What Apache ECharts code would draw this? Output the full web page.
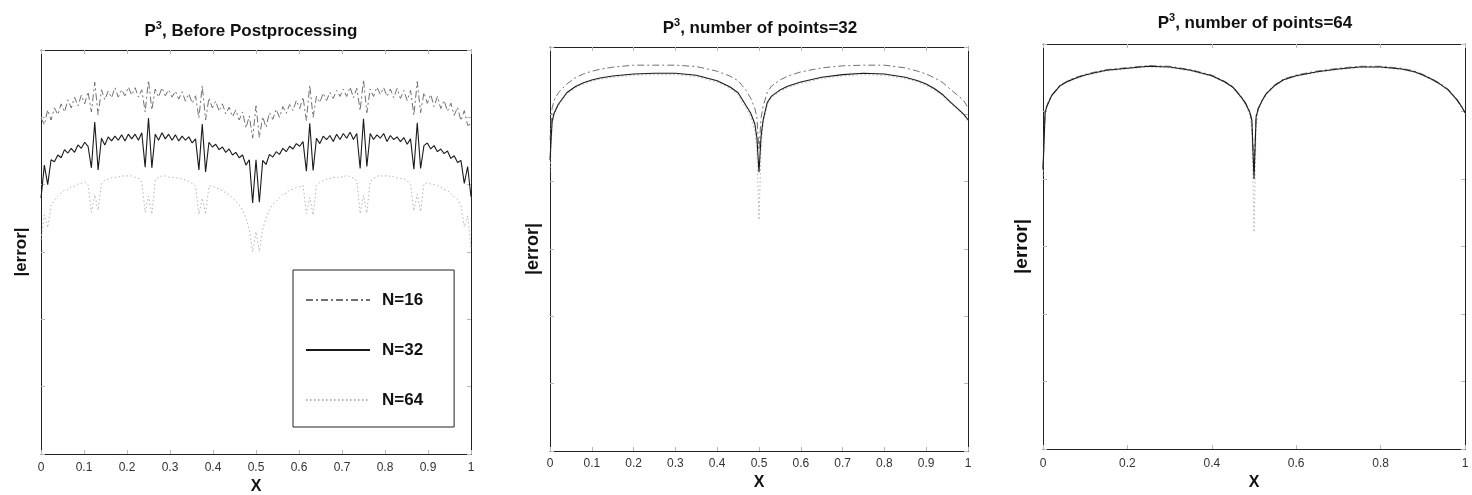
<!DOCTYPE html>
<html><head><meta charset="utf-8">
<script src="https://cdn.jsdelivr.net/npm/echarts@6/dist/echarts.min.js"></script>
<style>html,body{margin:0;padding:0;background:#fff}#c{width:1472px;height:495px}</style>
</head><body><div id="c"></div>
<script>
// ---- Panel 1: before postprocessing (x sampled every 1/128) ----
const x1 = [0,0.0078,0.0156,0.0234,0.0313,0.0391,0.0469,0.0547,0.0625,0.0703,0.0781,0.0859,0.0938,0.1016,0.1094,0.1172,0.125,0.1328,0.1406,0.1484,0.1563,0.1641,0.1719,0.1797,0.1875,0.1953,0.2031,0.2109,0.2188,0.2266,0.2344,0.2422,0.25,0.2578,0.2656,0.2734,0.2813,0.2891,0.2969,0.3047,0.3125,0.3203,0.3281,0.3359,0.3438,0.3516,0.3594,0.3672,0.375,0.3828,0.3906,0.3984,0.4063,0.4141,0.4219,0.4297,0.4375,0.4453,0.4531,0.4609,0.4688,0.4766,0.4844,0.4922,0.5,0.5078,0.5156,0.5234,0.5313,0.5391,0.5469,0.5547,0.5625,0.5703,0.5781,0.5859,0.5938,0.6016,0.6094,0.6172,0.625,0.6328,0.6406,0.6484,0.6563,0.6641,0.6719,0.6797,0.6875,0.6953,0.7031,0.7109,0.7188,0.7266,0.7344,0.7422,0.75,0.7578,0.7656,0.7734,0.7813,0.7891,0.7969,0.8047,0.8125,0.8203,0.8281,0.8359,0.8438,0.8516,0.8594,0.8672,0.875,0.8828,0.8906,0.8984,0.9063,0.9141,0.9219,0.9297,0.9375,0.9453,0.9531,0.9609,0.9688,0.9766,0.9844,0.9922,1];
const n16a = [4.99,4.89,5.11,4.96,5.14,5.04,5.20,5.08,5.26,5.14,
 5.30,5.17,5.33,5.20,5.38,5.08,5.52,5.04,5.41,5.26,
 5.39,5.29,5.44,5.30,5.41,5.32,5.45,5.33,5.44,5.30,
 5.41,5.08,5.55,5.11,5.42,5.30,5.44,5.32,5.41,5.30,
 5.39,5.27,5.38,5.24,5.35,5.21,5.32,4.99,5.47,4.96,
 5.29,5.14,5.24,5.09,5.20,5.05,5.15,5.01,5.11,4.96,
 5.08,4.84,5.02,4.69,5.17,
 4.70,5.01,4.85,5.07,4.97,5.12,5.00,5.16,5.06,5.19,
 5.10,5.25,5.13,5.30,4.95,5.48,5.00,5.31,5.22,5.36,
 5.25,5.37,5.28,5.40,5.31,5.42,5.31,5.45,5.29,5.43,
 5.10,5.56,5.07,5.42,5.31,5.45,5.34,5.44,5.31,5.42,
 5.29,5.43,5.28,5.40,5.25,5.40,5.03,5.53,5.07,5.37,
 5.21,5.34,5.16,5.31,5.13,5.25,5.09,5.21,5.03,5.15,
 4.95,5.10,4.88,4.90];
const n32a = [3.80,4.29,4.00,4.37,4.34,4.44,4.40,4.52,4.47,4.54,
 4.48,4.59,4.54,4.63,4.57,4.25,4.93,4.22,4.69,4.59,
 4.71,4.65,4.72,4.66,4.74,4.65,4.75,4.68,4.75,4.66,
 4.77,4.26,4.99,4.25,4.75,4.66,4.77,4.68,4.75,4.66,
 4.74,4.65,4.72,4.66,4.71,4.62,4.68,4.22,4.90,4.19,
 4.63,4.56,4.60,4.52,4.56,4.48,4.53,4.44,4.48,4.40,
 4.44,4.29,4.37,3.73,4.37,
 3.74,4.36,4.30,4.45,4.41,4.49,4.45,4.54,4.49,4.57,
 4.53,4.61,4.57,4.64,4.20,4.91,4.21,4.69,4.61,4.72,
 4.67,4.73,4.64,4.75,4.67,4.76,4.69,4.78,4.67,4.76,
 4.24,4.98,4.27,4.76,4.67,4.74,4.69,4.76,4.64,4.73,
 4.67,4.71,4.64,4.70,4.60,4.68,4.23,4.92,4.24,4.58,
 4.62,4.53,4.58,4.49,4.53,4.46,4.50,4.39,4.43,4.33,
 4.36,4.02,4.27,3.82];
const n64a = [3.18,3.55,3.36,3.70,3.77,3.83,3.88,3.92,3.92,3.97,
 3.98,4.01,4.02,4.04,4.00,3.59,3.85,3.62,4.01,4.07,
 4.08,4.10,4.11,4.11,4.13,4.13,4.13,4.13,4.11,4.10,
 4.04,3.59,3.83,3.56,4.07,4.11,4.13,4.13,4.11,4.11,
 4.10,4.10,4.08,4.07,4.05,4.02,3.98,3.56,3.80,3.56,
 3.98,3.98,3.95,3.94,3.91,3.88,3.85,3.80,3.76,3.70,
 3.62,3.51,3.33,3.00,3.30,
 3.01,3.34,3.50,3.63,3.71,3.75,3.81,3.86,3.87,3.92,
 3.93,3.96,3.97,3.99,3.57,3.81,3.55,3.99,4.03,4.06,
 4.08,4.09,4.11,4.10,4.12,4.11,4.14,4.12,4.10,4.06,
 3.57,3.84,3.58,4.05,4.09,4.12,4.14,4.12,4.14,4.12,
 4.12,4.10,4.09,4.09,4.06,4.00,3.61,3.86,3.60,4.01,
 4.03,4.01,4.00,3.99,3.96,3.93,3.91,3.87,3.82,3.78,
 3.69,3.37,3.54,3.05];

// ---- Panels 2 and 3: postprocessed (shared x grid) ----
const xp = [0,0.005,0.01,0.02,0.04,0.06,0.08,0.1,0.12,0.15,0.2,0.25,0.3,0.35,0.4,0.43,0.45,0.47,0.48,0.49,0.495,0.5,0.505,0.51,0.52,0.53,0.55,0.57,0.6,0.65,0.7,0.75,0.8,0.85,0.88,0.9,0.92,0.94,0.96,0.98,0.99,0.995,1];
const n16b = [4.62,5.09,5.21,5.32,5.45,5.54,5.60,5.64,5.67,5.70,5.73,5.73,5.73,5.71,5.64,5.57,5.50,5.35,5.24,5.09,4.95,4.47,4.95,5.12,5.33,5.42,5.51,5.57,5.63,5.69,5.72,5.73,5.73,5.69,5.64,5.60,5.54,5.47,5.36,5.26,5.20,5.15,5.09];
const n32b = [4.32,4.89,5.02,5.15,5.32,5.41,5.47,5.51,5.54,5.57,5.60,5.61,5.61,5.58,5.50,5.41,5.32,5.12,5.02,4.86,4.65,4.14,4.68,4.92,5.18,5.27,5.36,5.42,5.48,5.55,5.59,5.61,5.60,5.55,5.50,5.45,5.38,5.29,5.17,5.06,5.00,4.96,4.92];
const n64b = [4.15,4.85,5.00,5.13,5.30,5.39,5.45,5.49,5.52,5.55,5.58,5.59,5.59,5.56,5.48,5.39,5.29,5.08,4.96,4.76,4.45,3.43,4.48,4.86,5.15,5.25,5.34,5.40,5.46,5.53,5.57,5.59,5.58,5.53,5.48,5.43,5.36,5.27,5.15,5.04,4.98,4.94,4.88];
const n16c = [4.16,5.00,5.10,5.24,5.39,5.46,5.51,5.55,5.58,5.62,5.65,5.68,5.67,5.62,5.54,5.45,5.37,5.22,5.13,5.00,4.88,4.10,4.94,5.05,5.18,5.28,5.40,5.48,5.54,5.60,5.64,5.67,5.67,5.64,5.60,5.55,5.49,5.42,5.33,5.19,5.10,5.05,4.99];
const n32c = [4.14,4.99,5.09,5.23,5.38,5.45,5.50,5.54,5.57,5.61,5.64,5.67,5.66,5.61,5.53,5.44,5.36,5.21,5.12,4.99,4.86,4.00,4.92,5.04,5.17,5.27,5.39,5.47,5.53,5.59,5.63,5.66,5.66,5.63,5.59,5.54,5.48,5.41,5.32,5.18,5.09,5.04,4.98];
const n64c = [4.05,4.97,5.08,5.22,5.37,5.44,5.49,5.53,5.56,5.60,5.63,5.66,5.65,5.60,5.52,5.43,5.35,5.20,5.10,4.95,4.70,3.21,4.75,5.01,5.16,5.26,5.38,5.46,5.52,5.58,5.62,5.65,5.65,5.62,5.58,5.53,5.47,5.40,5.31,5.17,5.08,5.03,4.97];

// ---- text / ticks ----
const titleTexts = [', Before Postprocessing', ', number of points=32', ', number of points=64'];
const seriesNames = ['N=16', 'N=32', 'N=64'];
const xTickStep = [0.1, 0.1, 0.2];
const yRange = [0, 6, 1];

// ---- layout ----
const FONT = '"Liberation Sans", Arial, Helvetica, sans-serif';
const grids = [
  {left: 41, top: 50, width: 430, height: 404},
  {left: 550, top: 47, width: 418, height: 404},
  {left: 1043, top: 44, width: 422, height: 405}
];
const titleX = [251, 760, 1255];
const titleTop = [20, 17, 12];
const labelMargin = [8, 7, 9];
const xNameGap = [24, 24, 26];
const yNameGap = [11, 8, 12];
const yNameSize = [17, 18, 19];

const styles = {
  'N=16': {color: '#707070', width: 1, type: [7, 3, 2, 3]},
  'N=32': {color: '#1a1a1a', width: 1.1, type: 'solid'},
  'N=64': {color: '#b4b4b4', width: 1, type: [1.5, 2.5]}
};
const zOrder = {'N=16': 3, 'N=32': 4, 'N=64': 2};

const xAxes = [], yAxes = [];
const tickLine = {inside: true, length: 4, lineStyle: {color: '#b8b8b8', width: 1}};
const boxLine = {show: true, onZero: false, lineStyle: {color: '#222', width: 1}};
grids.forEach((g, i) => {
  xAxes.push({type: 'value', gridIndex: i, min: 0, max: 1, interval: xTickStep[i], position: 'bottom',
    axisLine: boxLine, axisTick: tickLine, splitLine: {show: false},
    axisLabel: {margin: labelMargin[i], fontSize: 12, color: '#333', fontFamily: FONT},
    name: 'X', nameLocation: 'middle', nameGap: xNameGap[i],
    nameTextStyle: {fontWeight: 'bold', fontSize: 16, color: '#111', fontFamily: FONT}});
  xAxes.push({type: 'value', gridIndex: i, min: 0, max: 1, interval: xTickStep[i], position: 'top',
    axisLine: boxLine, axisTick: tickLine, splitLine: {show: false}, axisLabel: {show: false}});
  yAxes.push({type: 'value', gridIndex: i, min: yRange[0], max: yRange[1], interval: yRange[2], position: 'left',
    axisLine: boxLine, axisTick: tickLine, splitLine: {show: false}, axisLabel: {show: false},
    name: '|error|', nameLocation: 'middle', nameRotate: 90, nameGap: yNameGap[i],
    nameTextStyle: {fontWeight: 'bold', fontSize: yNameSize[i], color: '#111', fontFamily: FONT}});
  yAxes.push({type: 'value', gridIndex: i, min: yRange[0], max: yRange[1], interval: yRange[2], position: 'right',
    axisLine: boxLine, axisTick: tickLine, splitLine: {show: false}, axisLabel: {show: false}});
});

const panels = [
  {x: x1, ys: [n16a, n32a, n64a]},
  {x: xp, ys: [n16b, n32b, n64b]},
  {x: xp, ys: [n16c, n32c, n64c]}
];
const series = [];
panels.forEach((p, i) => {
  p.ys.forEach((ys, k) => {
    const nm = seriesNames[k];
    series.push({
      name: nm, type: 'line', xAxisIndex: 2 * i, yAxisIndex: 2 * i,
      symbol: 'none', showSymbol: false, smooth: false, z: zOrder[nm],
      lineStyle: styles[nm], itemStyle: {color: styles[nm].color},
      emphasis: {disabled: true},
      data: p.x.map((x, j) => [x, ys[j]])
    });
  });
});

const chart = echarts.init(document.getElementById('c'), null, {renderer: 'canvas'});
chart.setOption({
  animation: false,
  backgroundColor: '#fff',
  title: titleTexts.map((t, i) => ({
    text: '{b|P}{s|3}{b|' + t + '}', left: titleX[i], top: titleTop[i], textAlign: 'center', padding: 0,
    textStyle: {rich: {
      b: {fontSize: 17, fontWeight: 'bold', color: '#111', fontFamily: FONT, lineHeight: 22},
      s: {fontSize: 11, fontWeight: 'bold', color: '#111', fontFamily: FONT, verticalAlign: 'top', lineHeight: 12}
    }}
  })),
  legend: {
    data: seriesNames, orient: 'vertical', left: 293, top: 270,
    padding: [21, 31, 18, 12], itemGap: 32, itemWidth: 64, itemHeight: 14,
    borderColor: '#222', borderWidth: 1, backgroundColor: '#fff',
    selectedMode: false,
    itemStyle: {color: 'rgba(0,0,0,0)', borderColor: 'rgba(0,0,0,0)', borderWidth: 0},
    textStyle: {fontSize: 17, fontWeight: 'bold', color: '#111', fontFamily: FONT, padding: [0, 0, 0, 7], lineHeight: 18}
  },
  grid: grids.map(g => Object.assign({containLabel: false, outerBoundsMode: 'none'}, g)),
  xAxis: xAxes,
  yAxis: yAxes,
  series: series
});
</script>
</body></html>
